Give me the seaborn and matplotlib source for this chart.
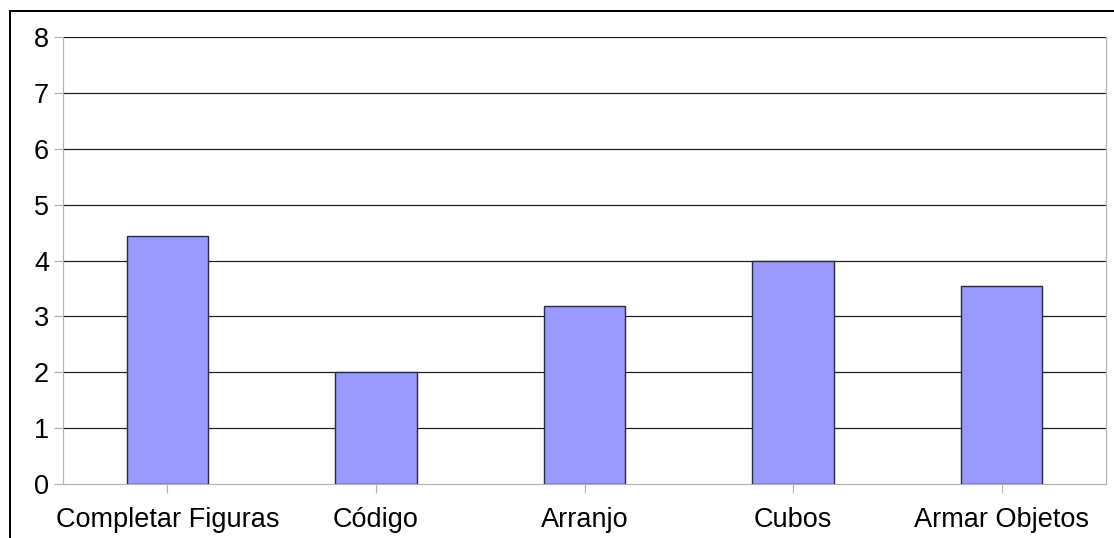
import matplotlib
matplotlib.use("Agg")
import matplotlib.pyplot as plt
from matplotlib.lines import Line2D
import seaborn as sns
import pandas as pd

# Test scores per subtest
categories = ["Completar Figuras", "Código", "Arranjo", "Cubos", "Armar Objetos"]
values = [4.44, 2.0, 3.19, 4.0, 3.54]
y_ticks = [0, 1, 2, 3, 4, 5, 6, 7, 8]

sns.set_style("white")
plt.rcParams["font.family"] = ["Liberation Sans", "DejaVu Sans"]

W, H, DPI = 1114, 538, 100
PX = 72 / DPI  # one pixel in points
fig = plt.figure(figsize=(W / DPI, H / DPI), dpi=DPI)
ax = fig.add_axes([63 / W, 1 - 484 / H, (1106 - 63) / W, (484 - 37) / H])

df = pd.DataFrame({"categoria": categories, "valor": values})
sns.barplot(data=df, x="categoria", y="valor", ax=ax, color="#9999ff",
            saturation=1, width=0.39, edgecolor="#2a2a3a", linewidth=1.4 * PX,
            zorder=3)

ax.set_ylim(0, 8)
ax.set_yticks(y_ticks)
ax.set_xlim(-0.5, len(categories) - 0.5)
ax.set_xlabel("")
ax.set_ylabel("")

# Horizontal grid lines
for t in y_ticks[1:]:
    ax.axhline(t, color="#1a1a1a", linewidth=1.2 * PX, zorder=1)

for side in ["left", "bottom", "right"]:
    ax.spines[side].set_visible(True)
    ax.spines[side].set_color("#b3b3b3")
    ax.spines[side].set_linewidth(1.2 * PX)
ax.spines["top"].set_visible(False)

ax.tick_params(axis="both", which="both", length=9 * PX, width=1.2 * PX,
               color="#b3b3b3", labelsize=19.5, labelcolor="black",
               direction="out", left=True, bottom=True)
ax.tick_params(axis="y", pad=5 * PX)
ax.tick_params(axis="x", pad=14 * PX)

# Outer frame around the chart
fig.add_artist(Line2D([10 / W, 10 / W], [0, 1 - 11 / H], color="black",
                      linewidth=2 * PX, transform=fig.transFigure))
fig.add_artist(Line2D([10 / W, 1], [1 - 11 / H, 1 - 11 / H], color="black",
                      linewidth=2 * PX, transform=fig.transFigure))

fig.savefig("out.png", dpi=DPI)
